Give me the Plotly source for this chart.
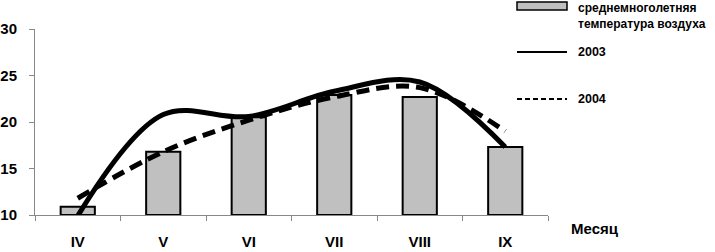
import plotly.graph_objects as go

months = ["IV", "V", "VI", "VII", "VIII", "IX"]
avg_temp = [10.9, 16.8, 20.5, 22.9, 22.7, 17.3]
t2003 = [9.9, 20.8, 20.6, 23.3, 24.3, 17.3]
t2004 = [11.8, 16.8, 20.2, 22.7, 23.7, 19.0]

legend_bar = "среднемноголетняя<br>температура воздуха"
legend_2003 = "2003"
legend_2004 = "2004"
x_title = "Месяц"

FONT = "Liberation Sans"

fig = go.Figure()
fig.add_trace(go.Bar(x=months, y=[v - 10 for v in avg_temp], base=10, width=0.4,
                     marker=dict(color="#c0c0c0", line=dict(color="#000000", width=2)),
                     showlegend=False))
fig.add_trace(go.Scatter(x=months, y=t2003, mode="lines",
                         line=dict(color="#000000", width=5, shape="spline", smoothing=1.0),
                         showlegend=False, cliponaxis=False))
fig.add_trace(go.Scatter(x=months, y=t2004, mode="lines",
                         line=dict(color="#000000", width=5, shape="spline", smoothing=1.0, dash="13px,7px"),
                         showlegend=False, cliponaxis=False))

L, R, T, B = 35, 548, 29, 215
W, H = 715, 252
def px(x): return (x - L) / (R - L)
def py(y): return (B - y) / (B - T)

shapes = [
    dict(type="rect", xref="paper", yref="paper", x0=px(517), x1=px(567), y0=py(10), y1=py(2),
         fillcolor="#c0c0c0", line=dict(color="#000000", width=1.5)),
    dict(type="line", xref="paper", yref="paper", x0=px(517), x1=px(567), y0=py(52), y1=py(52),
         line=dict(color="#000000", width=2)),
    dict(type="line", xref="paper", yref="paper", x0=px(517), x1=px(567), y0=py(99), y1=py(99),
         line=dict(color="#000000", width=2, dash="5px,3px")),
]
annotations = [
    dict(text=legend_bar, xref="paper", yref="paper", x=px(576), y=py(16), xanchor="left", yanchor="middle",
         showarrow=False, align="left", font=dict(family=FONT, size=12, color="#000000", weight="bold")),
    dict(text=legend_2003, xref="paper", yref="paper", x=px(576), y=py(52), xanchor="left", yanchor="middle",
         showarrow=False, font=dict(family=FONT, size=12.5, color="#000000", weight="bold")),
    dict(text=legend_2004, xref="paper", yref="paper", x=px(576), y=py(99), xanchor="left", yanchor="middle",
         showarrow=False, font=dict(family=FONT, size=12.5, color="#000000", weight="bold")),
    dict(text=x_title, xref="paper", yref="paper", x=px(569), y=py(228), xanchor="left", yanchor="middle",
         showarrow=False, font=dict(family=FONT, size=15, color="#000000", weight="bold")),
]

fig.update_layout(
    width=W, height=H,
    margin=dict(l=L, r=W - R, t=T, b=H - B, pad=0, autoexpand=False),
    plot_bgcolor="#ffffff", paper_bgcolor="#ffffff",
    shapes=shapes, annotations=annotations,
    bargap=0.6,
    xaxis=dict(type="category", tickson="boundaries", ticks="outside", ticklen=5, tickcolor="#888888",
               showline=True, linecolor="#888888", linewidth=1, showgrid=False, zeroline=False,
               range=[-0.5, 5.5], ticklabelstandoff=13, automargin=False,
               tickfont=dict(family=FONT, size=15, color="#000000", weight="bold")),
    yaxis=dict(range=[10, 30], tickvals=[10, 15, 20, 25, 30], ticks="outside", ticklen=5, tickcolor="#888888",
               showline=True, linecolor="#888888", linewidth=1, showgrid=False, zeroline=False,
               ticklabelstandoff=9, automargin=False,
               tickfont=dict(family=FONT, size=15, color="#000000", weight="bold")),
)
fig.write_html("out.html", config={"displayModeBar": False},
               post_script="document.body.style.margin='0';document.body.style.padding='0';document.documentElement.style.overflow='hidden';")
